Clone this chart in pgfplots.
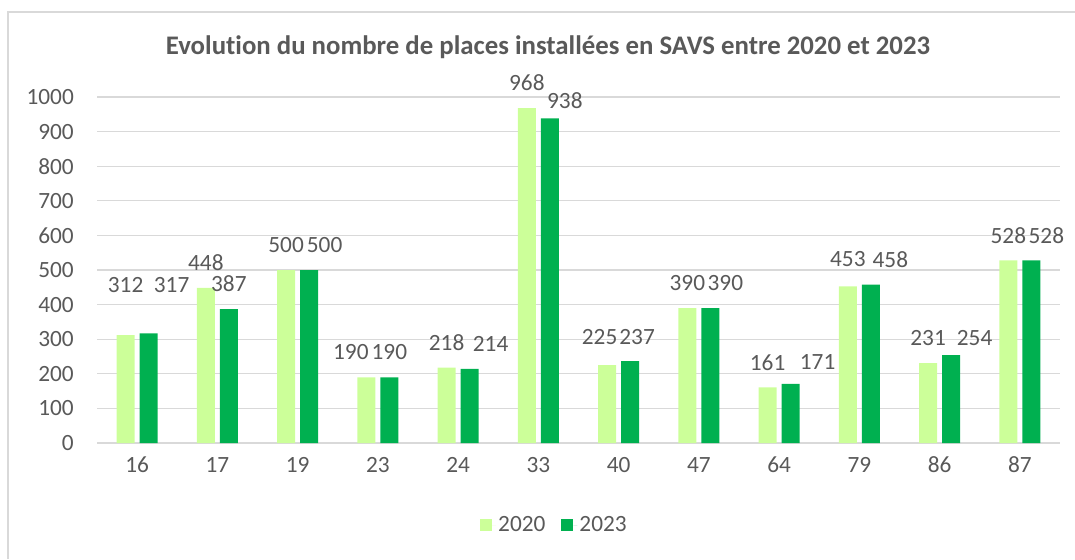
\documentclass[border=0pt]{standalone}
\usepackage{pgfplots}
\usepackage{pgfplotstable}
\pgfplotsset{compat=1.18}
\usepackage{fontspec}
\setmainfont[Ligatures=NoCommon]{Carlito}
\definecolor{lg}{HTML}{CCFF99}
\definecolor{dg}{HTML}{00B050}
\definecolor{txt}{HTML}{595959}
\definecolor{gridc}{HTML}{D9D9D9}
\pgfplotstableread{
x y dx dy
0 312 0 25
1 448 0 0
2 500 0 0
3 190 -15.5 0
4 218 0 0
5 968 0 0
6 225 -7.5 3
7 390 0 0
8 161 0 0
9 453 0 2
10 231 0 0
11 528 0 0
}\dataA
\pgfplotstableread{
x y dx dy
0 317 23 23
1 387 0 0
2 500 15.5 0
3 190 0 0
4 214 21 0
5 938 15 -7.5
6 237 7 -1
7 390 15 0
8 171 27 -3
9 458 19.5 0
10 254 23.5 -8
11 528 15 0
}\dataB
\begin{document}
\begin{tikzpicture}
\path[use as bounding box] (0pt,0pt) rectangle (1075pt,-559pt);
\draw[gridc, line width=1.5pt] (8pt,-559pt) -- (8pt,-12pt) -- (1075pt,-12pt);
\node[font=\fontsize{26.8}{32}\selectfont\bfseries, text=txt] at (548pt,-47pt) {Evolution du nombre de places installées en SAVS entre 2020 et 2023};
\begin{axis}[at={(97pt,-443pt)}, anchor=south west, scale only axis,
  width=963pt, height=346pt,
  ybar=5pt, bar width=18pt,
  xmin=-0.5, xmax=11.5, ymin=0, ymax=1000,
  clip=false,
  axis line style={draw=none},
  major tick length=0pt,
  ytick={0,100,...,1000},
  xtick={0,...,11},
  xticklabels={16,17,19,23,24,33,40,47,64,79,86,87},
  ymajorgrids, grid style={gridc, line width=1.3pt},
  /pgf/number format/assume math mode=true,
  /pgf/number format/1000 sep={},
  tick label style={font=\fontsize{23.3}{27}\selectfont, text=txt},
  yticklabel style={anchor=east, inner sep=0pt, xshift=-23pt},
  xticklabel style={anchor=center, inner sep=0pt, yshift=-22pt},
  nodes near coords,
  visualization depends on={\thisrow{dx}\as\dx},
  visualization depends on={\thisrow{dy}\as\dy},
  nodes near coords style={font=\fontsize{23.3}{27}\selectfont, text=txt, anchor=center, inner sep=0pt,
    xshift=\dx pt, yshift={(25+\dy)*1pt}, /pgf/number format/assume math mode=true},
  legend style={at={(0.475,-0.237)}, anchor=center, draw=none, fill=none,
    font=\fontsize{23.3}{27}\selectfont, text=txt,
    /tikz/every even column/.append style={column sep=14pt}},
  legend columns=2,
  legend image code/.code={\fill[#1] (0pt,-6pt) rectangle (12pt,6pt); \path (12pt,0pt) -- (16pt,0pt);},
]
\addplot[fill=lg, draw=none] table[x=x, y=y] {\dataA};
\addplot[fill=dg, draw=none] table[x=x, y=y] {\dataB};
\legend{2020,2023}
\end{axis}
\end{tikzpicture}
\end{document}
